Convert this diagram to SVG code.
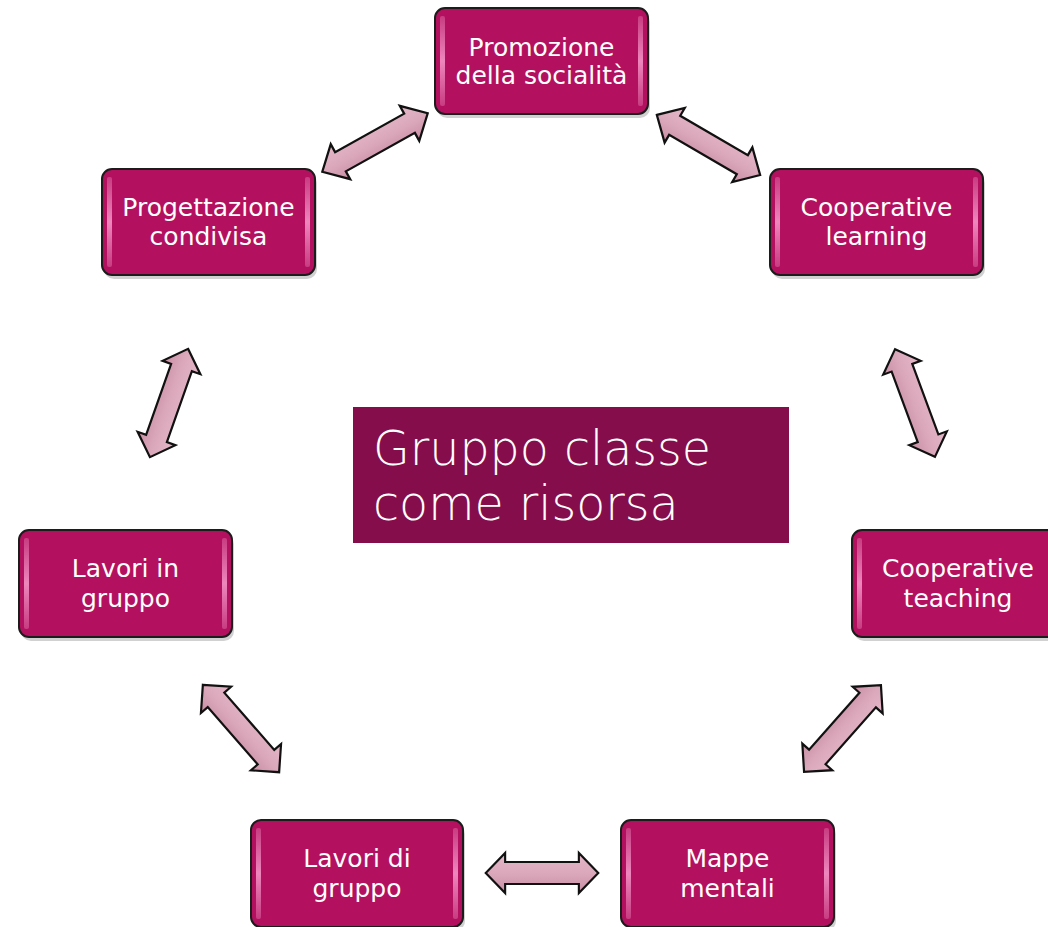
<svg xmlns="http://www.w3.org/2000/svg" width="1048" height="927" viewBox="0 0 1048 927">
<style>
.box{fill:#b3115f;stroke:#1c1c1c;stroke-width:2}
.shadow{fill:#000;opacity:0.18}
.edge{fill:url(#edgeGrad)}
.lbl{font-family:"DejaVu Sans",sans-serif;font-size:25px;fill:#ffffff;text-anchor:middle}
.big{font-family:"DejaVu Sans",sans-serif;font-size:47.5px;fill:#ffffff;font-weight:300}
.arr{fill:url(#arrGrad);stroke:#111;stroke-width:2.2;stroke-linejoin:miter}
</style>
<defs>
<linearGradient id="arrGrad" x1="0" y1="0" x2="0" y2="1">
<stop offset="0" stop-color="#e4b8c8"/>
<stop offset="0.5" stop-color="#dba8bb"/>
<stop offset="1" stop-color="#c98ea4"/>
</linearGradient>
<linearGradient id="edgeGrad" x1="0" y1="0" x2="0" y2="1">
<stop offset="0" stop-color="#c83c82"/>
<stop offset="0.5" stop-color="#ee86bc"/>
<stop offset="1" stop-color="#c83c82"/>
</linearGradient>
<path id="dbl" d="M -58 0 L -38 -20 L -38 -11 L 38 -11 L 38 -20 L 58 0 L 38 20 L 38 11 L -38 11 L -38 20 Z"/>
</defs>

<g id="connectors">
<use href="#dbl" class="arr" transform="translate(375,142.5) rotate(-29.1) scale(1.04,1)"/>
<use href="#dbl" class="arr" transform="translate(708.5,145) rotate(30.2) scale(1.03,1)"/>
<use href="#dbl" class="arr" transform="translate(169,403) rotate(109.4) scale(0.99,1)"/>
<use href="#dbl" class="arr" transform="translate(915,403) rotate(69.7) scale(0.99,1)"/>
<use href="#dbl" class="arr" transform="translate(241,728.5) rotate(48.9) scale(1,1)"/>
<use href="#dbl" class="arr" transform="translate(842.5,728.5) rotate(131.5) scale(1,1)"/>
<use href="#dbl" class="arr" transform="translate(542,873) scale(0.97,1)"/>
</g>

<g id="center">
<rect x="353" y="407" width="436" height="136" fill="#850d4b"/>
<text class="big" x="373" y="465">Gruppo classe</text>
<text class="big" x="373" y="520">come risorsa</text>
</g>

<g id="n-promozione">
<rect class="shadow" x="437" y="12" width="213" height="106" rx="10"/>
<rect class="box" x="435" y="8" width="213" height="106" rx="10"/>
<rect class="edge" x="440" y="16" width="5" height="90" rx="2"/>
<rect class="edge" x="638" y="16" width="5" height="90" rx="2"/>
<text class="lbl" x="541.5" y="56">Promozione</text>
<text class="lbl" x="541.5" y="84">della socialità</text>
</g>

<g id="n-progettazione">
<rect class="shadow" x="104" y="173" width="213" height="106" rx="10"/>
<rect class="box" x="102" y="169" width="213" height="106" rx="10"/>
<rect class="edge" x="107" y="177" width="5" height="90" rx="2"/>
<rect class="edge" x="305" y="177" width="5" height="90" rx="2"/>
<text class="lbl" x="208.5" y="216">Progettazione</text>
<text class="lbl" x="208.5" y="245">condivisa</text>
</g>

<g id="n-coop-learning">
<rect class="shadow" x="772" y="173" width="213" height="106" rx="10"/>
<rect class="box" x="770" y="169" width="213" height="106" rx="10"/>
<rect class="edge" x="775" y="177" width="5" height="90" rx="2"/>
<rect class="edge" x="973" y="177" width="5" height="90" rx="2"/>
<text class="lbl" x="876.5" y="216">Cooperative</text>
<text class="lbl" x="876.5" y="245">learning</text>
</g>

<g id="n-lavori-in">
<rect class="shadow" x="21" y="534" width="213" height="107" rx="10"/>
<rect class="box" x="19" y="530" width="213" height="107" rx="10"/>
<rect class="edge" x="24" y="538" width="5" height="91" rx="2"/>
<rect class="edge" x="222" y="538" width="5" height="91" rx="2"/>
<text class="lbl" x="125.5" y="577">Lavori in</text>
<text class="lbl" x="125.5" y="607">gruppo</text>
</g>

<g id="n-coop-teaching">
<rect class="shadow" x="854" y="534" width="213" height="107" rx="10"/>
<rect class="box" x="852" y="530" width="213" height="107" rx="10"/>
<rect class="edge" x="857" y="538" width="5" height="91" rx="2"/>
<text class="lbl" x="958" y="577">Cooperative</text>
<text class="lbl" x="958" y="607">teaching</text>
</g>

<g id="n-lavori-di">
<rect class="shadow" x="253" y="824" width="212" height="107" rx="10"/>
<rect class="box" x="251" y="820" width="212" height="107" rx="10"/>
<rect class="edge" x="256" y="828" width="5" height="91" rx="2"/>
<rect class="edge" x="453" y="828" width="5" height="91" rx="2"/>
<text class="lbl" x="357" y="867">Lavori di</text>
<text class="lbl" x="357" y="897">gruppo</text>
</g>

<g id="n-mappe">
<rect class="shadow" x="623" y="824" width="213" height="107" rx="10"/>
<rect class="box" x="621" y="820" width="213" height="107" rx="10"/>
<rect class="edge" x="626" y="828" width="5" height="91" rx="2"/>
<rect class="edge" x="824" y="828" width="5" height="91" rx="2"/>
<text class="lbl" x="727.5" y="867">Mappe</text>
<text class="lbl" x="727.5" y="897">mentali</text>
</g>
</svg>
